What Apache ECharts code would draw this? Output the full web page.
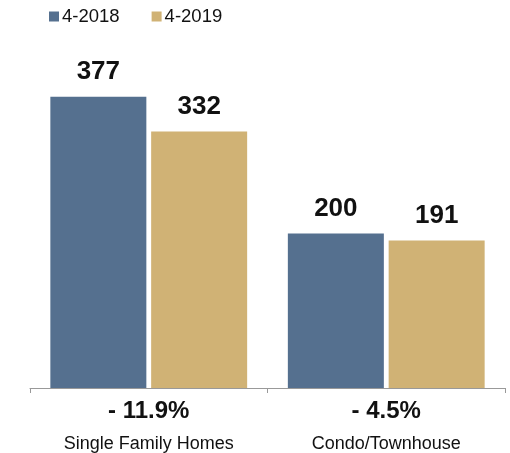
<!DOCTYPE html>
<html>
<head>
<meta charset="utf-8">
<script src="https://cdn.jsdelivr.net/npm/echarts@6/dist/echarts.min.js"></script>
<style>html,body{margin:0;padding:0;background:#fff}#c{width:510px;height:453px}</style>
</head>
<body>
<div id="c"></div>
<script>
var categories = ['Single Family Homes', 'Condo/Townhouse'];
var changeLabels = ['- 11.9%', '- 4.5%'];
var seriesNames = ['4-2018', '4-2019'];
var values2018 = [377, 200];
var values2019 = [332, 191];

var font = '"Liberation Sans", Arial, Helvetica, sans-serif';
var chart = echarts.init(document.getElementById('c'));
chart.setOption({
  animation: false,
  textStyle: { fontFamily: font },
  legend: {
    left: 44, top: 2,
    itemWidth: 10, itemHeight: 10, itemGap: 32,
    icon: 'rect',
    textStyle: { fontSize: 18.5, color: '#111', fontFamily: font, padding: [0, 0, 0, -2] },
    data: seriesNames
  },
  grid: { left: 30, right: 5, top: 79, bottom: 64, containLabel: false },
  xAxis: {
    type: 'category',
    data: categories,
    axisLine: { lineStyle: { color: '#999', width: 1 } },
    axisTick: { show: true, length: 5, lineStyle: { color: '#999' } },
    axisLabel: {
      interval: 0,
      margin: 8,
      formatter: function (v, i) { return '{p|' + changeLabels[i] + '}\n{n|' + v + '}'; },
      rich: {
        p: { fontSize: 24, fontWeight: 'bold', color: '#111', lineHeight: 31, fontFamily: font },
        n: { fontSize: 18, color: '#111', lineHeight: 34, fontFamily: font }
      }
    }
  },
  yAxis: {
    type: 'value', min: 0, max: 400,
    show: false,
    splitLine: { show: false }
  },
  series: [
    {
      name: seriesNames[0], type: 'bar', data: values2018,
      barWidth: 96, barGap: '5%',
      itemStyle: { color: '#55708F' },
      label: { show: true, position: 'top', distance: 12, fontSize: 26, fontWeight: 'bold', color: '#111', fontFamily: font }
    },
    {
      name: seriesNames[1], type: 'bar', data: values2019,
      barWidth: 96,
      itemStyle: { color: '#D0B275' },
      label: { show: true, position: 'top', distance: 12, fontSize: 26, fontWeight: 'bold', color: '#111', fontFamily: font }
    }
  ]
});
</script>
</body>
</html>
